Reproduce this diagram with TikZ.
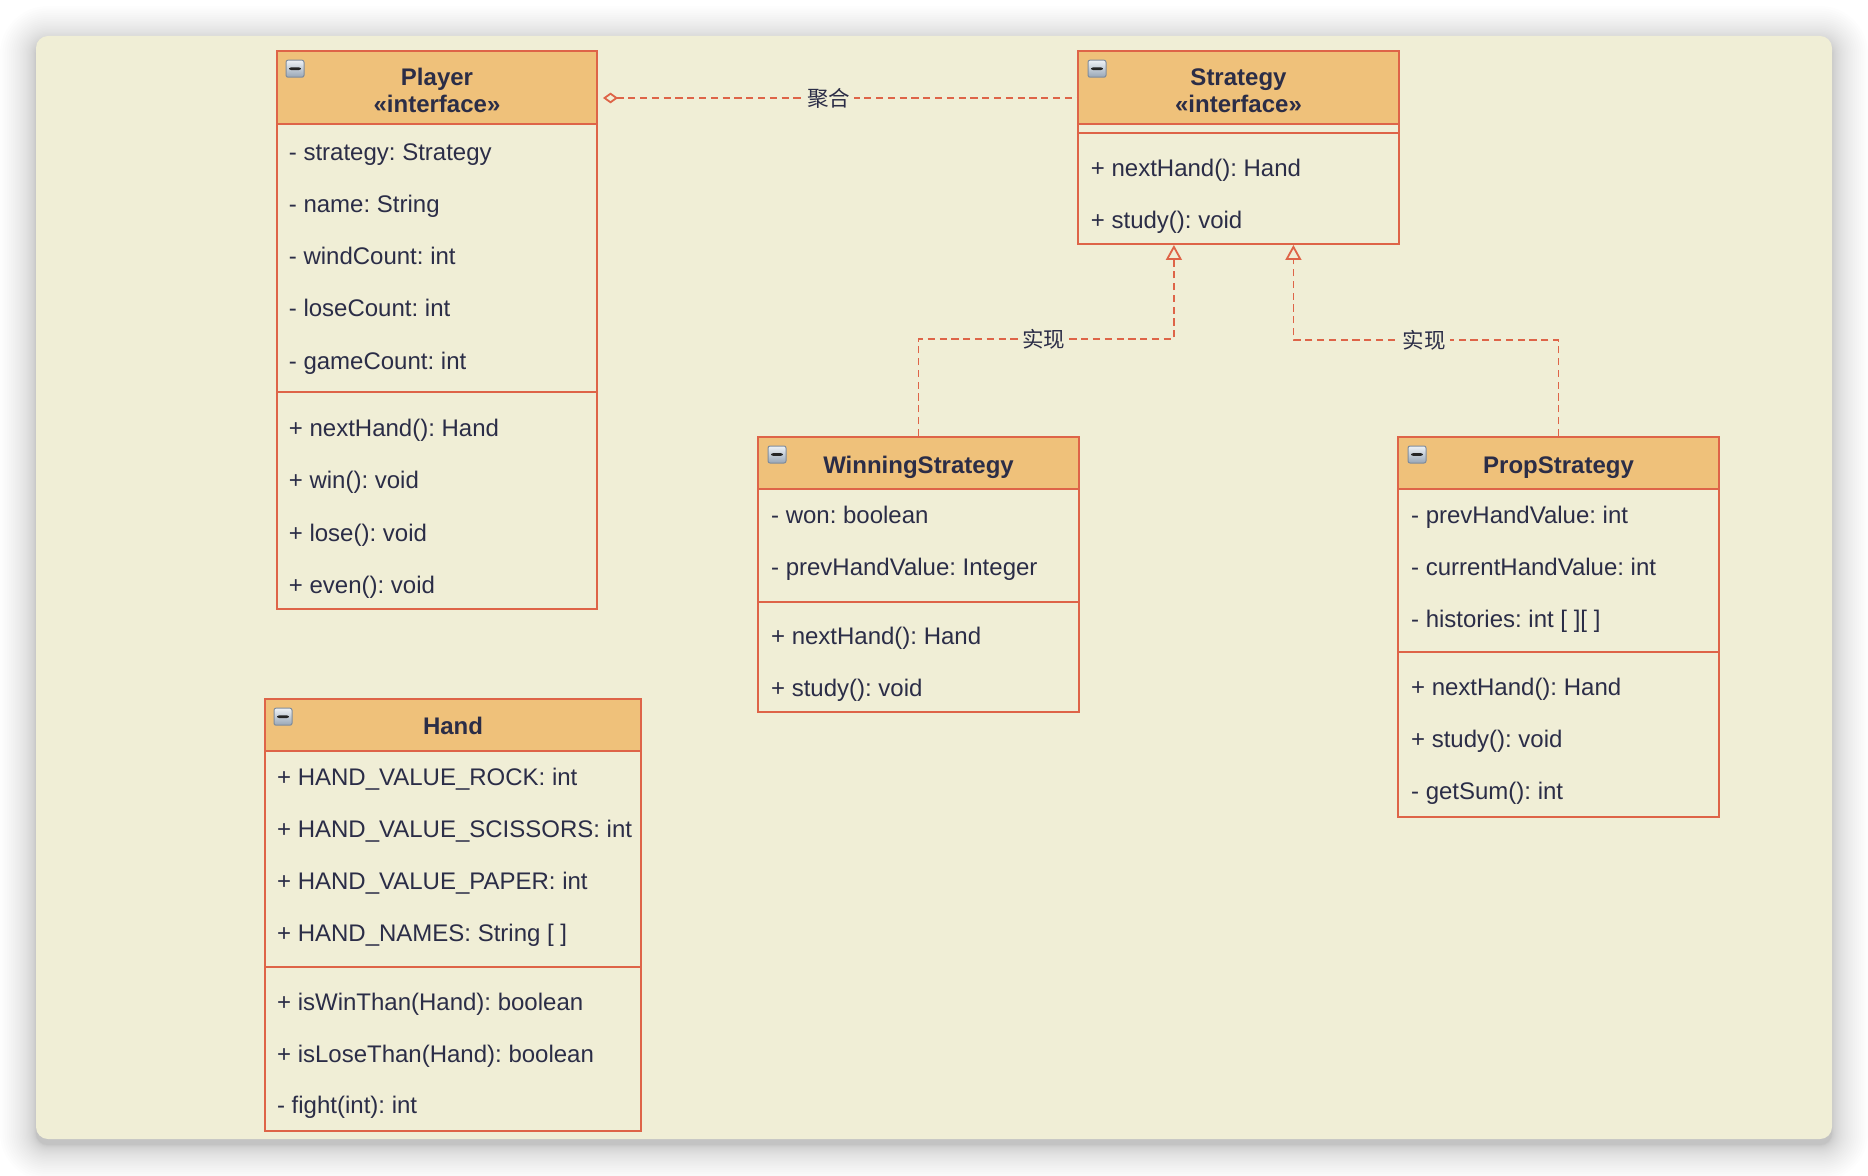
\documentclass[tikz,border=0pt]{standalone}
\usepackage{fontspec}
\setmainfont{Liberation Sans}
\newfontfamily\cjkfont{Noto Sans CJK SC}
\usetikzlibrary{arrows.meta,calc,fit}

\definecolor{panelbg}{HTML}{F0EED6}
\definecolor{umlhead}{HTML}{EFC17A}
\definecolor{umlline}{HTML}{DE6448}
\definecolor{umltext}{HTML}{2B2D47}
\definecolor{iconrim}{HTML}{7F8C9C}
\definecolor{iconhi}{HTML}{EEF2F6}
\definecolor{iconlo}{HTML}{98A6B6}

\newcommand\memberfont{\fontsize{12}{14}\selectfont}
\newcommand\relfont{\cjkfont\fontsize{10.75}{12}\selectfont}
\frenchspacing

\begin{document}
\begin{tikzpicture}[x=0.5pt,y=-0.5pt,
  classbox/.style={draw=umlline, line width=1pt, fill=panelbg, inner sep=0pt},
  headbox/.style={draw=umlline, line width=1pt, fill=umlhead, inner sep=0pt},
  compline/.style={draw=umlline, line width=1pt},
  member/.style={anchor=base west, inner sep=0pt, text=umltext, font=\memberfont},
  cname/.style={anchor=base, inner sep=0pt, text=umltext, font=\memberfont\bfseries},
  foldicon/.style={draw=iconrim, line width=0.5pt, rounded corners=1pt,
    top color=iconhi, bottom color=iconlo, minimum width=9pt, minimum height=8.5pt,
    inner sep=0pt,
    path picture={\fill[black!85]
      ([xshift=-2.9pt,yshift=-0.68pt]path picture bounding box.center) rectangle
      ([xshift=2.9pt,yshift=0.68pt]path picture bounding box.center);}},
  relline/.style={draw=umlline, line width=0.9pt, dash pattern=on 3.6pt off 2.3pt},
  rellabel/.style={fill=panelbg, text=umltext, font=\relfont, inner sep=2pt}
]

% page and panel with a soft drop shadow (layers packed near the panel edge)
\useasboundingbox (0,0) rectangle (1868,1176);
\fill[white] (0,0) rectangle (1868,1176);
\foreach \i in {1,...,30}{
  \pgfmathsetmacro\r{36*(\i/30)^2}
  \pgfmathsetmacro\rc{6+\r/2}
  \fill[black, opacity=0.0075, rounded corners=\rc pt]
    (36-\r, 42-\r) rectangle (1832+\r, 1145+\r);
}
\fill[panelbg, rounded corners=6pt] (36,36) rectangle (1832,1139);

% ---------------- Player ----------------
\node[classbox, fit={(277,51) (597,609)}] (player) {};
\node[headbox, fit={(277,51) (597,124)}] (player-head) {};
\draw[compline] (player.west |- 0,392) -- (player.east |- 0,392);
\node[foldicon] (player-icon) at (295,68.7) {};
\node[cname] (player-name) at (437,85.7) {Player};
\node[cname] (player-stereo) at (437,112.7) {«interface»};
\foreach \t [count=\k] in {- strategy: Strategy, - name: String, - windCount: int,
    - loseCount: int, - gameCount: int}
  \node[member] (player-a\k) at (288.5,108.6+52.1*\k) {\t};
\foreach \t [count=\k] in {+ nextHand(): Hand, + win(): void, + lose(): void, + even(): void}
  \node[member] (player-m\k) at (288.5,384.2+52.3*\k) {\t};

% ---------------- Strategy ----------------
\node[classbox, fit={(1078,51) (1399,244)}] (strategy) {};
\node[headbox, fit={(1078,51) (1399,124)}] (strategy-head) {};
\draw[compline] (strategy.west |- 0,133) -- (strategy.east |- 0,133);
\node[foldicon] (strategy-icon) at (1097,68.7) {};
\node[cname] (strategy-name) at (1238.5,85.7) {Strategy};
\node[cname] (strategy-stereo) at (1238.5,112.7) {«interface»};
\node[member] (strategy-m1) at (1090.5,176.5) {+ nextHand(): Hand};
\node[member] (strategy-m2) at (1090.5,228.3) {+ study(): void};

% ---------------- WinningStrategy ----------------
\node[classbox, fit={(758,437) (1079,712)}] (winning) {};
\node[headbox, fit={(758,437) (1079,489)}] (winning-head) {};
\draw[compline] (winning.west |- 0,602) -- (winning.east |- 0,602);
\node[foldicon] (winning-icon) at (777,454.5) {};
\node[cname] (winning-name) at (918.5,473.3) {WinningStrategy};
\node[member] (winning-a1) at (770.7,523.5) {- won: boolean};
\node[member] (winning-a2) at (770.7,575.8) {- prevHandValue: Integer};
\node[member] (winning-m1) at (770.7,644.5) {+ nextHand(): Hand};
\node[member] (winning-m2) at (770.7,696.8) {+ study(): void};

% ---------------- PropStrategy ----------------
\node[classbox, fit={(1398,437) (1719,817)}] (prop) {};
\node[headbox, fit={(1398,437) (1719,489)}] (prop-head) {};
\draw[compline] (prop.west |- 0,652) -- (prop.east |- 0,652);
\node[foldicon] (prop-icon) at (1417,454.5) {};
\node[cname] (prop-name) at (1558.5,473.3) {PropStrategy};
\foreach \t [count=\k] in {- prevHandValue: int, - currentHandValue: int, - histories: int [ ][ ]}
  \node[member] (prop-a\k) at (1410.7,471.3+52.2*\k) {\t};
\foreach \t [count=\k] in {+ nextHand(): Hand, + study(): void, - getSum(): int}
  \node[member] (prop-m\k) at (1410.7,643.7+52*\k) {\t};

% ---------------- Hand ----------------
\node[classbox, fit={(265,699) (641,1131)}] (hand) {};
\node[headbox, fit={(265,699) (641,751)}] (hand-head) {};
\draw[compline] (hand.west |- 0,967) -- (hand.east |- 0,967);
\node[foldicon] (hand-icon) at (283,716.7) {};
\node[cname] (hand-name) at (453,734) {Hand};
\foreach \t [count=\k] in {+ HAND\_VALUE\_ROCK: int, + HAND\_VALUE\_SCISSORS: int,
    + HAND\_VALUE\_PAPER: int, + HAND\_NAMES: String [ ]}
  \node[member] (hand-a\k) at (276.7,733.7+52*\k) {\t};
\foreach \t [count=\k] in {+ isWinThan(Hand): boolean, + isLoseThan(Hand): boolean, - fight(int): int}
  \node[member] (hand-m\k) at (276.7,958.6+51.7*\k) {\t};

% ---------------- relations ----------------
% aggregation Player <>- - - Strategy
\coordinate (aggA) at ($(player.north east)+(0,48)$);
\draw[relline, {Diamond[open,length=7.5pt,width=5.4pt,line width=0.9pt]}-, shorten <=2.5pt]
  (aggA) -- node[rellabel, pos=0.482] (agg-label) {聚合} (aggA -| strategy.west);

% realizations of Strategy
\coordinate (sL) at ($(strategy.south west)!0.3!(strategy.south east)$);
\coordinate (sR) at ($(strategy.south west)!0.67!(strategy.south east)$);
\coordinate (wA) at ($(winning.north)+(0,-97)$);
\coordinate (pA) at ($(prop.north)+(0,-96)$);
\draw[relline, -{Triangle[open,length=7.5pt,width=8pt,line width=0.9pt]}]
  (winning.north) -- (wA) -- node[rellabel, pos=0.49] (real1-label) {实现} (wA -| sL) -- (sL);
\draw[relline, -{Triangle[open,length=7.5pt,width=8pt,line width=0.9pt]}]
  (prop.north) -- (pA) -- node[rellabel, pos=0.507] (real2-label) {实现} (pA -| sR) -- (sR);

\end{tikzpicture}
\end{document}
